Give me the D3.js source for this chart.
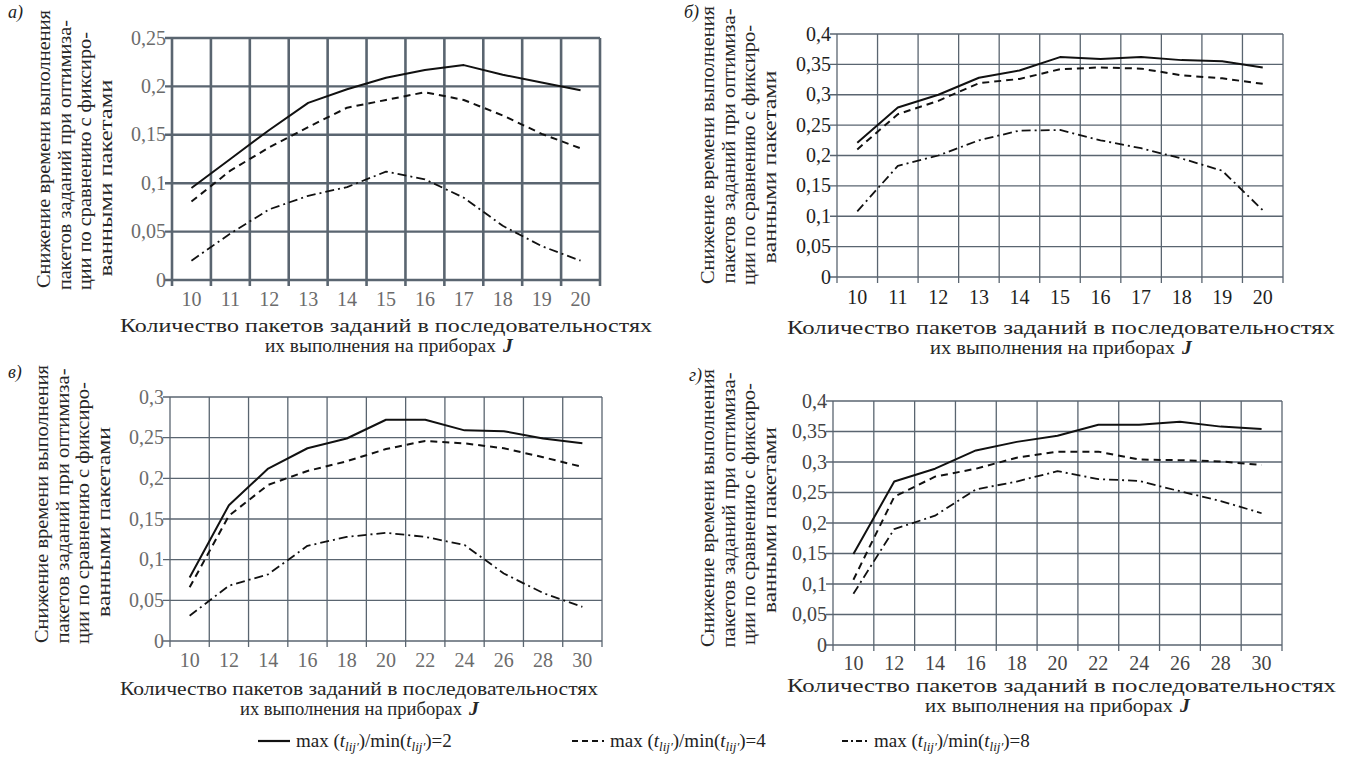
<!DOCTYPE html>
<html><head><meta charset="utf-8">
<script src="https://cdn.jsdelivr.net/npm/d3@7"></script>
<style>
html,body{margin:0;padding:0;background:#fff;}
svg{display:block;font-family:"Liberation Serif","DejaVu Serif",serif;}
</style></head>
<body>
<svg id="chart" width="1346" height="758"></svg>
<script>
// ---- data ----
const catsA = [10,11,12,13,14,15,16,17,18,19,20];
const catsB = [10,11,12,13,14,15,16,17,18,19,20];
const catsC = [10,12,14,16,18,20,22,24,26,28,30];
const catsD = [10,12,14,16,18,20,22,24,26,28,30];

const a2 = [0.095,0.125,0.155,0.183,0.197,0.209,0.217,0.222,0.212,0.204,0.196];
const a4 = [0.081,0.113,0.137,0.158,0.178,0.186,0.194,0.186,0.170,0.151,0.136];
const a8 = [0.020,0.048,0.073,0.087,0.096,0.112,0.104,0.085,0.056,0.035,0.020];

const b2 = [0.221,0.279,0.300,0.328,0.340,0.362,0.359,0.362,0.357,0.355,0.345];
const b4 = [0.210,0.268,0.290,0.319,0.326,0.342,0.345,0.343,0.332,0.327,0.318];
const b8 = [0.108,0.183,0.200,0.225,0.241,0.242,0.225,0.212,0.195,0.175,0.110];

const c2 = [0.078,0.167,0.212,0.237,0.249,0.272,0.272,0.259,0.258,0.249,0.243];
const c4 = [0.066,0.154,0.192,0.209,0.221,0.236,0.246,0.243,0.237,0.226,0.214];
const c8 = [0.031,0.068,0.082,0.117,0.128,0.133,0.128,0.118,0.083,0.059,0.042];

const d2 = [0.149,0.268,0.289,0.319,0.333,0.343,0.361,0.361,0.366,0.358,0.354];
const d4 = [0.107,0.243,0.276,0.289,0.307,0.317,0.317,0.304,0.303,0.301,0.295];
const d8 = [0.084,0.190,0.212,0.255,0.268,0.285,0.272,0.269,0.252,0.236,0.216];

const yTicksA = [0,0.05,0.1,0.15,0.2,0.25];
const yTicksB = [0,0.05,0.1,0.15,0.2,0.25,0.3,0.35,0.4];
const yTicksC = [0,0.05,0.1,0.15,0.2,0.25,0.3];
const yTicksD = [0,0.05,0.1,0.15,0.2,0.25,0.3,0.35,0.4];

const panelLabels = ["а)","б)","в)","г)"];
const yTitleLines = ["Снижение времени выполнения","пакетов заданий при оптимиза-","ции по сравнению с фиксиро-","ванными пакетами"];
const xTitleLine1 = "Количество пакетов заданий в последовательностях";
const xTitleLine2 = "их выполнения на приборах";
const xTitleVar = "J";
const ratios = [2,4,8];

// ---- layout (not data) ----
const panels = [
  {label:panelLabels[0], cats:catsA, series:[a2,a4,a8], ticks:yTicksA, L:172,R:600,T:38,B:280, lab:[8,18], gridW:2.4, vgridW:2.6, tickCol:"#6b6b6b",
   xt:[306,332,352], x1:[120,532], x2:[265,231], yx:44, yc:[149,155,161,178], yl:[278,270,258,197]},
  {label:panelLabels[1], cats:catsB, series:[b2,b4,b8], ticks:yTicksB, L:837,R:1283,T:34,B:277, lab:[684,18], gridW:1.3, vgridW:1.3, tickCol:"#1e1e1e",
   xt:[304,334,354], x1:[787,548], x2:[930,245], yx:708, yc:[145,146,155,167], yl:[278,275,260,193]},
  {label:panelLabels[2], cats:catsC, series:[c2,c4,c8], ticks:yTicksC, L:170,R:602,T:397,B:641, lab:[8,378], gridW:1.3, vgridW:1.3, tickCol:"#6b6b6b",
   xt:[667,695,715], x1:[120,478], x2:[240,222], yx:42, yc:[504,506,513,522], yl:[278,275,262,190]},
  {label:panelLabels[3], cats:catsD, series:[d2,d4,d8], ticks:yTicksD, L:833,R:1282,T:401,B:645, lab:[689,381], gridW:1.3, vgridW:1.3, tickCol:"#444",
   xt:[670,692,712], x1:[787,549], x2:[925,248], yx:708, yc:[508,510,514,520], yl:[278,275,262,186]}
];
const styles = [
  {dash:null, w:2},
  {dash:"7,5", w:2},
  {dash:"9,4,2,4", w:1.8}
];
const gridCol = "#5a6570";
const fmt = v => d3.format(".2~f")(v).replace(".", ",");

const svg = d3.select("#chart");

panels.forEach(p => {
  const g = svg.append("g");
  const x = d3.scaleBand().domain(p.cats).range([p.L, p.R]).paddingInner(0).paddingOuter(0);
  const y = d3.scaleLinear().domain([0, d3.max(p.ticks)]).range([p.B, p.T]);

  g.selectAll(".hg").data(p.ticks).join("line")
    .attr("x1", p.L - 7).attr("x2", p.R)
    .attr("y1", d => y(d)).attr("y2", d => y(d))
    .attr("stroke", gridCol).attr("stroke-width", p.gridW);
  const bounds = p.cats.map(c => x(c)).concat([p.R]);
  g.selectAll(".vg").data(bounds).join("line")
    .attr("x1", d => d).attr("x2", d => d)
    .attr("y1", p.T).attr("y2", p.B + 6)
    .attr("stroke", gridCol).attr("stroke-width", p.vgridW);

  g.selectAll(".yl").data(p.ticks).join("text")
    .attr("x", p.L - 6).attr("y", d => y(d) + 6.5)
    .attr("text-anchor", "end").attr("font-size", 20).attr("fill", p.tickCol)
    .text(d => fmt(d));
  g.selectAll(".xl").data(p.cats).join("text")
    .attr("x", d => x(d) + x.bandwidth()/2).attr("y", p.xt[0])
    .attr("text-anchor", "middle").attr("font-size", 20).attr("fill", p.tickCol)
    .text(d => d);

  p.series.forEach((vals, i) => {
    const line = d3.line().x((d, k) => x(p.cats[k]) + x.bandwidth()/2).y(d => y(d));
    g.append("path").datum(vals)
      .attr("d", line).attr("fill", "none")
      .attr("stroke", "#111").attr("stroke-width", styles[i].w)
      .attr("stroke-dasharray", styles[i].dash)
      .attr("stroke-linejoin", "round");
  });

  g.append("text").attr("x", p.lab[0]).attr("y", p.lab[1])
    .attr("font-size", 18).attr("font-style", "italic").attr("fill", "#222").text(p.label);

  yTitleLines.forEach((t, i) => {
    const cx = p.yx + i*20.5;
    g.append("text")
      .attr("transform", `translate(${cx + 6},${p.yc[i]}) rotate(-90)`)
      .attr("text-anchor", "middle").attr("font-size", 19).attr("fill", "#262626")
      .attr("textLength", p.yl[i]).attr("lengthAdjust", "spacingAndGlyphs")
      .text(t);
  });

  g.append("text").attr("x", p.x1[0]).attr("y", p.xt[1])
    .attr("font-size", 19.5).attr("fill", "#262626")
    .attr("textLength", p.x1[1]).attr("lengthAdjust", "spacingAndGlyphs")
    .text(xTitleLine1);
  g.append("text").attr("x", p.x2[0]).attr("y", p.xt[2])
    .attr("font-size", 19).attr("fill", "#262626")
    .attr("textLength", p.x2[1]).attr("lengthAdjust", "spacingAndGlyphs")
    .text(xTitleLine2);
  g.append("text").attr("x", p.x2[0] + p.x2[1] + 7).attr("y", p.xt[2])
    .attr("font-size", 19.5).attr("font-style", "italic").attr("font-weight", "bold").attr("fill", "#262626")
    .text(xTitleVar);
});

// legend
const legX = [258, 572, 842];
const lg = svg.append("g");
ratios.forEach((r, i) => {
  const x0 = legX[i];
  lg.append("line").attr("x1", x0).attr("x2", x0 + (i === 2 ? 26 : 32))
    .attr("y1", 741).attr("y2", 741)
    .attr("stroke", "#111").attr("stroke-width", i === 0 ? 2.2 : 2)
    .attr("stroke-dasharray", i === 0 ? null : (i === 1 ? "6,4" : "6,3,2,3"));
  const t = lg.append("text").attr("x", x0 + (i === 2 ? 32 : 38)).attr("y", 747)
    .attr("font-size", 19).attr("fill", "#222");
  t.append("tspan").text("max (");
  t.append("tspan").attr("font-style", "italic").text("t");
  t.append("tspan").attr("font-style", "italic").attr("font-size", 13).attr("dy", 4).text("lij′");
  t.append("tspan").attr("dy", -4).text(")/min(");
  t.append("tspan").attr("font-style", "italic").text("t");
  t.append("tspan").attr("font-style", "italic").attr("font-size", 13).attr("dy", 4).text("lij′");
  t.append("tspan").attr("dy", -4).text(")=" + r);
});
</script>
</body></html>
